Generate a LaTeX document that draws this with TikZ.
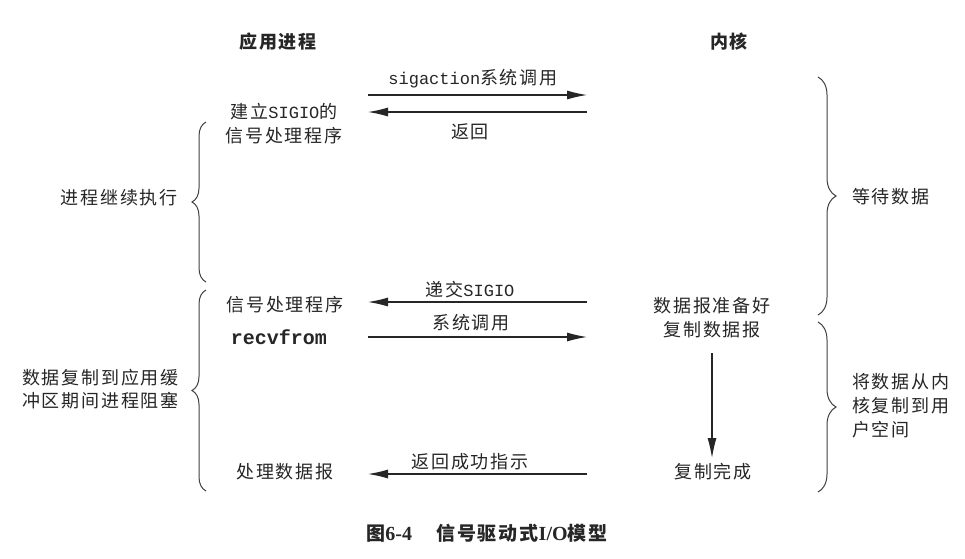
\documentclass[tikz,border=0pt]{standalone}
\usepackage{fontspec}
\setmainfont{Liberation Serif}
\newfontfamily\cjk[LetterSpace=10]{Noto Sans CJK SC}
\newfontfamily\monof{Liberation Mono}
\usetikzlibrary{decorations.pathreplacing,arrows.meta}
\tikzset{
  txt/.style={font=\cjk\fontsize{18}{24}\selectfont, inner sep=0pt, align=center, text=black!85},
  hdr/.style={font=\cjk\bfseries\fontsize{18}{22}\selectfont, inner sep=0pt, text=black!85},
  rtxt/.style={font=\cjk\fontsize{18}{24}\selectfont, inner sep=0pt, align=left, anchor=west, text=black!85},
  ltxt/.style={font=\cjk\fontsize{18}{23}\selectfont, inner sep=0pt, align=left, anchor=east, text=black!85},
  msg/.style={draw=black!85, line width=1.1pt, -{Latex[length=20pt,width=9pt]}},
  lbrace/.style={draw=black!75, line width=1pt, decorate, decoration={brace, amplitude=14pt}},
  rbrace/.style={draw=black!75, line width=1pt, decorate, decoration={brace, amplitude=18pt}},
}
\begin{document}
\begin{tikzpicture}[x=1pt,y=-1pt]
\useasboundingbox (0,0) rectangle (965,558);
\fill[white] (0,0) rectangle (965,558);

% headers
\node[hdr] (happ) at (278,42) {应用进程};
\node[hdr] (hker) at (729,42) {内核};

% application side labels
\node[txt] (setup) at (284,124) {建立{\monof\fontsize{17}{20}\selectfont SIGIO}的\\信号处理程序};
\node[txt] (handler) at (285,305) {信号处理程序};
\node[txt, font=\monof\bfseries\fontsize{20}{24}\selectfont] (recv) at (279,337) {recvfrom};
\node[txt] (proc) at (285,472) {处理数据报};

% kernel side labels
\node[txt] (ready) at (712,318) {数据报准备好\\复制数据报};
\node[txt] (done) at (713,472) {复制完成};

% message labels
\node[txt] (l1) at (473,79) {{\monof\fontsize{17}{20}\selectfont sigaction}系统调用};
\node[txt] (l2) at (470,132) {返回};
\node[txt] (l3) at (470,290) {递交{\monof\fontsize{17}{20}\selectfont SIGIO}};
\node[txt] (l4) at (471,323) {系统调用};
\node[txt] (l5) at (470,462) {返回成功指示};

% arrow endpoints
\coordinate (a1s) at (368,95);  \coordinate (a1e) at (587,95);
\coordinate (a2s) at (587,112); \coordinate (a2e) at (368,112);
\coordinate (a3s) at (587,302); \coordinate (a3e) at (368,302);
\coordinate (a4s) at (368,337); \coordinate (a4e) at (587,337);
\coordinate (a5s) at (587,474); \coordinate (a5e) at (368,474);
\coordinate (vs) at (712,353);  \coordinate (ve) at (712,458);

\draw[msg] (a1s) -- (a1e);
\draw[msg] (a2s) -- (a2e);
\draw[msg] (a3s) -- (a3e);
\draw[msg] (a4s) -- (a4e);
\draw[msg] (a5s) -- (a5e);
\draw[msg] (vs) -- (ve);

% left braces
\coordinate (lb1b) at (206,282); \coordinate (lb1t) at (206,122);
\coordinate (lb2b) at (206,491); \coordinate (lb2t) at (206,290);
\draw[lbrace] (lb1b) -- (lb1t);
\draw[lbrace] (lb2b) -- (lb2t);
\node[ltxt] (cont) at (178,198) {进程继续执行};
\node[ltxt] (block) at (179,389) {数据复制到应用缓\\冲区期间进程阻塞};

% right braces
\coordinate (rb1t) at (818,77);  \coordinate (rb1b) at (818,315);
\coordinate (rb2t) at (818,322); \coordinate (rb2b) at (818,492);
\draw[rbrace] (rb1t) -- (rb1b);
\draw[rbrace] (rb2t) -- (rb2b);
\node[rtxt] (wait) at (852,197) {等待数据};
\node[rtxt] (copy) at (852,406) {将数据从内\\核复制到用\\户空间};

% caption
\node[inner sep=0pt, font=\bfseries\fontsize{20}{24}\selectfont, text=black!85] (cap) at (487,533)
  {{\cjk\fontsize{19}{24}\selectfont 图}6-4\hspace{24pt}{\cjk\fontsize{19}{24}\selectfont 信号驱动式}I/O{\cjk\fontsize{19}{24}\selectfont 模型}};
\end{tikzpicture}
\end{document}
